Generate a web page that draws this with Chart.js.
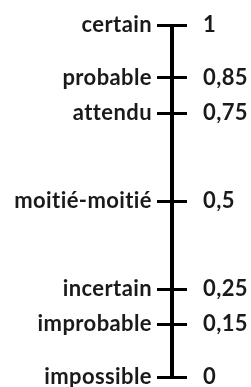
<!DOCTYPE html>
<html>
<head>
<meta charset="utf-8">
<script src="https://cdn.jsdelivr.net/npm/chart.js@4/dist/chart.umd.min.js"></script>
<style>
  html, body { margin: 0; padding: 0; background: #fff; overflow: hidden; }
  canvas { display: block; }
</style>
</head>
<body>
<canvas id="echelle" width="251" height="387"></canvas>
<script>
// échelle de probabilité
const mots = ['impossible', 'improbable', 'incertain', 'moitié-moitié', 'attendu', 'probable', 'certain'];
const valeurs = [0, 0.15, 0.25, 0.5, 0.75, 0.85, 1];
const etiquettes = ['0', '0,15', '0,25', '0,5', '0,75', '0,85', '1'];

const police = { family: 'Lato', size: 22, weight: 'bold' };
const encre = '#1a1a1a';

const fixerTicks = (scale) => {
  scale.ticks = valeurs.map(v => ({ value: v }));
};

// largeur fixe + pas de marge auto (sinon le padding des ticks pousse la zone)
const caler = (largeur) => (scale) => {
  scale.width = largeur;
  scale.paddingTop = 0;
  scale.paddingBottom = 0;
};

// un peu d'espacement : coupe la ligature "ti" de Lato
const sansLigature = {
  id: 'sansLigature',
  beforeDraw: (chart) => { chart.ctx.letterSpacing = '0.4px'; }
};

new Chart(document.getElementById('echelle').getContext('2d'), {
  type: 'line',
  data: {
    datasets: [{
      data: [{ x: 0.5, y: 0 }, { x: 0.5, y: 1 }],
      borderColor: '#000',
      borderWidth: 4,
      pointRadius: 0,
      borderCapStyle: 'butt',
      yAxisID: 'y'
    }]
  },
  options: {
    responsive: false,
    animation: false,
    layout: { padding: { top: 25, bottom: 10 } },
    plugins: { legend: { display: false }, tooltip: { enabled: false } },
    scales: {
      x: { type: 'linear', min: 0, max: 1, display: false },
      y: {
        type: 'linear', position: 'left', min: 0, max: 1,
        afterBuildTicks: fixerTicks,
        afterFit: caler(157),
        border: { display: false },
        grid: { color: '#000', lineWidth: 3, drawTicks: false },
        ticks: {
          padding: 5,
          color: encre,
          font: police,
          callback: (v) => mots[valeurs.indexOf(v)]
        }
      },
      y2: {
        type: 'linear', position: 'right', min: 0, max: 1,
        afterBuildTicks: fixerTicks,
        afterFit: caler(64),
        border: { display: false },
        grid: { display: false, drawTicks: false },
        ticks: {
          padding: 16,
          color: encre,
          font: police,
          callback: (v) => etiquettes[valeurs.indexOf(v)]
        }
      }
    }
  },
  plugins: [sansLigature]
});
</script>
</body>
</html>
